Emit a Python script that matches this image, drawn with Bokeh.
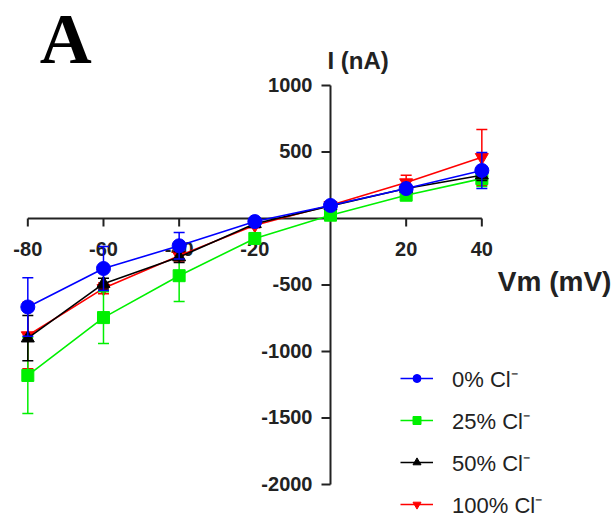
import numpy as np
from bokeh.plotting import figure
from bokeh.models import ColumnDataSource, Legend, LegendItem, Range1d
from bokeh.core.properties import value
from bokeh.embed import file_html
from bokeh.resources import INLINE

# ---- data ----
vm = [-80, -60, -40, -20, 0, 20, 40]

i_0 = [-665, -376, -205, -23, 98, 225, 361]
e_0 = [220, 165, 100, 20, 15, 30, 135]

i_25 = [-1180, -745, -430, -150, 25, 175, 300]
e_25 = [286, 195, 194, 40, 20, 35, 60]

i_50 = [-900, -490, -290, -40, 95, 225, 325]
e_50 = [170, 40, 40, 20, 15, 25, 40]

i_100 = [-880, -525, -280, -50, 100, 270, 460]
e_100 = [250, 40, 40, 20, 25, 55, 210]

labels = ["0% Cl\u207b", "25% Cl\u207b", "50% Cl\u207b", "100% Cl\u207b"]
colors = ["#0000ff", "#00f000", "#000000", "#ff0000"]
markers = ["circle", "square", "triangle", "inverted_triangle"]
msizes = [14, 12, 13, 13]

x_ticks = [-80, -60, -40, -20, 20, 40]
y_ticks = [1000, 500, -500, -1000, -1500, -2000]
x_tick_labels = [str(t) for t in x_ticks]
y_tick_labels = [str(t) for t in y_ticks]

x_axis_span = [-80, 40]
y_axis_span = [-2000, 1000]

# ---- figure ----
p = figure(width=613, height=518,
           x_range=Range1d(-87.22, 74.80), y_range=Range1d(-2255.6, 1639.1),
           output_backend="svg", toolbar_location=None, min_border=0,
           x_axis_type=None, y_axis_type=None)
p.outline_line_color = None
p.background_fill_color = "white"

AX = "#222222"
FONT = value("Liberation Sans")

# axes drawn at origin
p.segment(x0=[x_axis_span[0]], y0=[0], x1=[x_axis_span[1]], y1=[0], line_color=AX, line_width=2)
p.segment(x0=[0], y0=[y_axis_span[0]], x1=[0], y1=[y_axis_span[1]], line_color=AX, line_width=2)
p.ray(x=x_ticks, y=[0] * len(x_ticks), length=8, length_units="screen",
      angle=-np.pi / 2, line_color=AX, line_width=2)
p.ray(x=[0] * len(y_ticks), y=y_ticks, length=9, length_units="screen",
      angle=np.pi, line_color=AX, line_width=2)

p.text(x=x_ticks, y=[0] * len(x_ticks), text=x_tick_labels, text_align="center",
       text_baseline="middle", y_offset=30, text_font=FONT, text_font_style="bold",
       text_font_size="20px", text_color=AX)
p.text(x=[0] * len(y_ticks), y=y_ticks, text=y_tick_labels, text_align="right",
       text_baseline="middle", x_offset=-18, y_offset=-1, text_font=FONT,
       text_font_style="bold", text_font_size="20px", text_color=AX)

# axis titles and panel letter
p.text(x=[0], y=[y_axis_span[1]], text=["I (nA)"], text_align="left",
       text_baseline="middle", x_offset=-3, y_offset=-25, text_font=FONT,
       text_font_style="bold", text_font_size="24px", text_color=AX)
p.text(x=[x_axis_span[1]], y=[0], text=["Vm (mV)"], text_align="left",
       text_baseline="middle", x_offset=16, y_offset=63, text_font=FONT,
       text_font_style="bold", text_font_size="28px", text_color=AX)
p.text(x=[x_axis_span[0]], y=[y_axis_span[1]], text=["A"], text_align="left",
       text_baseline="middle", x_offset=12, y_offset=-47,
       text_font=value("Liberation Serif"), text_font_style="bold",
       text_font_size="72px", text_color="#000000")

# ---- series ----
series = [(i_0, e_0), (i_25, e_25), (i_50, e_50), (i_100, e_100)]
draw_order = [3, 1, 2, 0]
legend_refs = {}
for k in draw_order:
    mean, err = series[k]
    m = np.array(mean, dtype=float)
    e = np.array(err, dtype=float)
    src = ColumnDataSource(dict(x=vm, y=m, up=m + e, lo=m - e))
    c = colors[k]
    p.segment(x0="x", y0="lo", x1="x", y1="up", source=src, line_color=c, line_width=1.5)
    p.scatter(x="x", y="up", source=src, marker="dash", size=11, line_color=c, line_width=1.5)
    p.scatter(x="x", y="lo", source=src, marker="dash", size=11, line_color=c, line_width=1.5)
    ln = p.line(x="x", y="y", source=src, line_color=c, line_width=1.6)
    sc = p.scatter(x="x", y="y", source=src, marker=markers[k], size=msizes[k],
                   fill_color=c, line_color=c)
    legend_refs[k] = [ln, sc]

items = [LegendItem(label=labels[k], renderers=legend_refs[k]) for k in range(4)]
legend = Legend(items=items, location=(400, -1), orientation="vertical",
                glyph_width=33, glyph_height=20, label_height=20, spacing=12,
                label_standoff=19, padding=0, margin=0,
                border_line_alpha=0, background_fill_alpha=0,
                label_text_font="Liberation Sans", label_text_font_size="22px",
                label_text_color="#222222", label_text_baseline="middle")
p.add_layout(legend)

open("out.html", "w").write(file_html(p, INLINE))
